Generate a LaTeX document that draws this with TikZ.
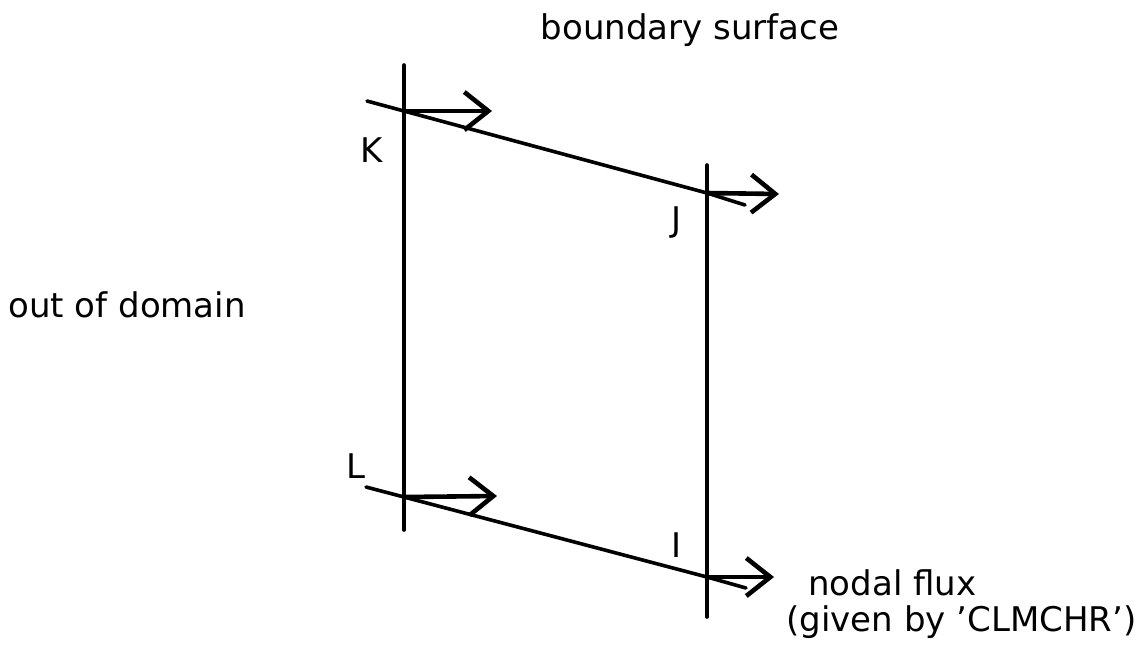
\documentclass[tikz,border=0pt]{standalone}
\usepackage{fontspec}
\setmainfont{DejaVu Sans}
\usetikzlibrary{arrows.meta}
\begin{document}
\begin{tikzpicture}[x=0.5pt,y=-0.5pt,
  edge/.style={line width=1.8pt,line cap=round},
  flux/.style={line width=2.3pt,line cap=round,-{Straight Barb[length=12pt,width=19pt,line width=2.3pt]}},
  lbl/.style={font=\fontsize{17}{20}\selectfont,inner sep=0pt}]
\useasboundingbox (0,0) rectangle (1146,650);
% corners
\coordinate (K) at (404,111);
\coordinate (J) at (707,193);
\coordinate (L) at (404,497);
\coordinate (I) at (707,577);
% line end points
\coordinate (Ltop) at (404,65);
\coordinate (Lbot) at (404,530);
\coordinate (Rtop) at (707,165);
\coordinate (Rbot) at (707,617);
\coordinate (Tstart) at (367,101);
\coordinate (Tend) at (745,205);
\coordinate (Bstart) at (366,487);
\coordinate (Bend) at (746,588);
\coordinate (Ktip) at (492,111);
\coordinate (Jtip) at (779,194);
\coordinate (Ltip) at (497,496);
\coordinate (Itip) at (774,577);
% boundary surfaces
\draw[edge] (Ltop) -- (Lbot);
\draw[edge] (Rtop) -- (Rbot);
% element edges
\draw[edge] (Tstart) -- (K) -- (J) -- (Tend);
\draw[edge] (Bstart) -- (L) -- (I) -- (Bend);
% nodal flux arrows
\draw[flux] (K) -- (Ktip);
\draw[flux] (J) -- (Jtip);
\draw[flux] (L) -- (Ltip);
\draw[flux] (I) -- (Itip);
% labels
\node[lbl] (kl) at (372,150) {K};
\node[lbl] (jl) at (677,222) {J};
\node[lbl] (ll) at (356,466) {L};
\node[lbl] (il) at (677,545) {I};
\node[lbl] (bs) at (690,30) {boundary surface};
\node[lbl,anchor=west] (od) at (8,305) {out of domain};
\node[lbl,anchor=west] (nf) at (808,583) {nodal flux};
\node[lbl,anchor=west] (gb) at (786,622) {(given by ’CLMCHR’)};
\end{tikzpicture}
\end{document}
